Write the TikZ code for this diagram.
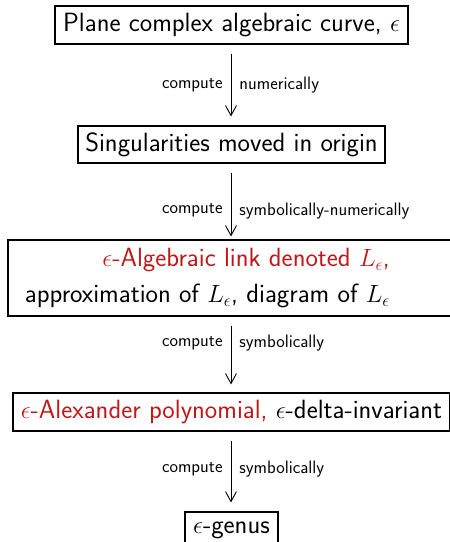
\documentclass[tikz,border=0pt]{standalone}
\usetikzlibrary{arrows.meta}
\definecolor{linkred}{RGB}{190,24,24}
\begin{document}
\begin{tikzpicture}[x=1pt,y=1pt,
  every node/.style={font=\sffamily\fontsize{26.4}{31}\selectfont},
  stage/.style={draw, line width=1.1pt, inner sep=0pt},
  lab/.style={font=\sffamily\fontsize{18}{21}\selectfont, inner sep=0pt},
  flow/.style={line width=0.9pt, -{Straight Barb[length=10pt,width=11pt,line width=0.9pt]}}]
\useasboundingbox (0,0) rectangle (450,542);

% stages of the computation
\node[stage, minimum width=353pt, minimum height=38pt] (curve) at (231.5,517)
  {Plane complex algebraic curve, $\epsilon$};
\node[stage, minimum width=307pt, minimum height=37pt] (sing) at (231.5,397.5)
  {Singularities moved in origin};
\node[stage, minimum width=446pt, minimum height=76pt] (link) at (231,264) {};
\node[anchor=east, inner sep=0pt, text=linkred] (linkA) at (390,282)
  {$\epsilon$-Algebraic link denoted $L_\epsilon$,};
\node[anchor=east, inner sep=0pt] (linkB) at (390,246)
  {approximation of $L_\epsilon$, diagram of $L_\epsilon$};
\node[stage, minimum width=437pt, minimum height=38pt] (alex) at (231.5,130)
  {\textcolor{linkred}{$\epsilon$-Alexander polynomial,} $\epsilon$-delta-invariant};
\node[stage, minimum width=93pt, minimum height=36pt] (genus) at (231.5,12)
  {$\epsilon$-genus};

% connectors with their labels
\draw[flow, shorten <=9pt, shorten >=9pt] (curve.south -| 231,0) -- (sing.north -| 231,0)
  node[lab, pos=0.5, left=8pt] {compute} node[lab, pos=0.5, right=8pt] {numerically};
\draw[flow, shorten <=9pt, shorten >=3pt] (sing.south -| 231,0) -- (link.north -| 231,0)
  node[lab, pos=0.62, left=8pt] {compute} node[lab, pos=0.62, right=8pt] {symbolically-numerically};
\draw[flow, shorten <=9pt, shorten >=8pt] (link.south -| 231,0) -- (alex.north -| 231,0)
  node[lab, pos=0.35, left=8pt] {compute} node[lab, pos=0.35, right=8pt] {symbolically};
\draw[flow, shorten <=9pt, shorten >=9pt] (alex.south -| 231,0) -- (genus.north -| 231,0)
  node[lab, pos=0.47, left=8pt] {compute} node[lab, pos=0.47, right=8pt] {symbolically};
\end{tikzpicture}
\end{document}
